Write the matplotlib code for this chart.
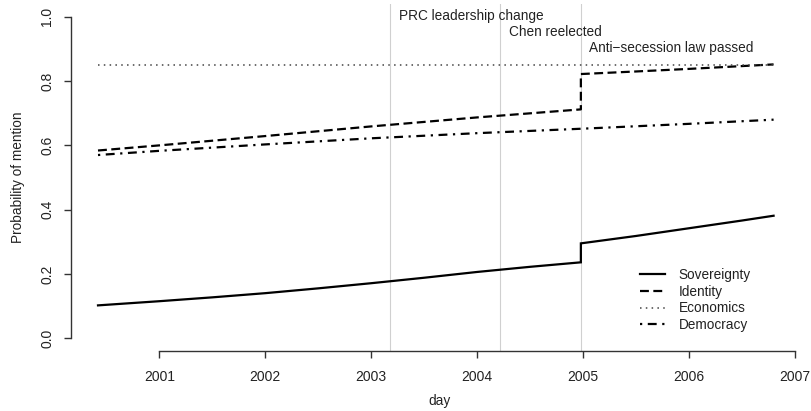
import matplotlib
matplotlib.use("Agg")
import matplotlib.pyplot as plt

plt.rcParams['font.family'] = ['Liberation Sans', 'DejaVu Sans']

# ---- data ----
sov_x = [2000.42, 2001.0, 2001.5, 2002.0, 2002.5, 2003.0, 2003.5, 2004.0, 2004.5, 2004.98,
         2004.98, 2005.5, 2006.0, 2006.5, 2006.8]
sov_y = [0.102, 0.115, 0.127, 0.140, 0.155, 0.171, 0.188, 0.206, 0.222, 0.236,
         0.295, 0.318, 0.342, 0.366, 0.381]

id_x = [2000.42, 2001.0, 2002.0, 2003.0, 2004.0, 2004.98, 2004.98, 2005.5, 2006.0, 2006.8]
id_y = [0.584, 0.600, 0.629, 0.659, 0.687, 0.712, 0.822, 0.830, 0.838, 0.852]

eco_x = [2000.42, 2006.8]
eco_y = [0.850, 0.850]

dem_x = [2000.42, 2001.0, 2002.0, 2003.0, 2004.0, 2005.0, 2006.0, 2006.8]
dem_y = [0.570, 0.583, 0.603, 0.622, 0.638, 0.652, 0.667, 0.680]

event_x = [2003.18, 2004.22, 2004.98]
event_labels = ["PRC leadership change", "Chen reelected", "Anti\u2212secession law passed"]
event_label_y = [1.003, 0.953, 0.903]

x_ticks = [2001, 2002, 2003, 2004, 2005, 2006, 2007]
y_ticks = [0.0, 0.2, 0.4, 0.6, 0.8, 1.0]
y_ticklabels = ["0.0", "0.2", "0.4", "0.6", "0.8", "1.0"]

# ---- figure ----
W, H = 811, 411
fig = plt.figure(figsize=(W / 100, H / 100), dpi=100)
ax = fig.add_axes([71 / W, (H - 351) / H, (808 - 71) / W, (351 - 4) / H])

ax.set_xlim(2000.165, 2007.125)
ax.set_ylim(-0.04, 1.04)

for ex in event_x:
    ax.axvline(ex, color='#d0d0d0', lw=0.8, zorder=1)
for ex, lab, ly in zip(event_x, event_labels, event_label_y):
    ax.annotate(lab, xy=(ex, ly), xytext=(6, 0), textcoords='offset points',
                ha='left', va='center', fontsize=9.8, color='#222222')

ax.plot(sov_x, sov_y, color='black', lw=1.6, solid_joinstyle='miter', label='Sovereignty', zorder=3)
ax.plot(id_x, id_y, color='black', lw=1.6, dashes=[4, 2], label='Identity', zorder=3)
ax.plot(eco_x, eco_y, color='#444444', lw=1.1, dashes=[1, 2.8], label='Economics', zorder=3)
ax.plot(dem_x, dem_y, color='black', lw=1.6, dashes=[1, 2.5, 4, 2.5], label='Democracy', zorder=3)

for s in ['top', 'right']:
    ax.spines[s].set_visible(False)
ax.spines['left'].set_bounds(0, 1)
ax.spines['bottom'].set_bounds(2001, 2007)
for s in ['left', 'bottom']:
    ax.spines[s].set_color('#333333')
    ax.spines[s].set_linewidth(1.0)

ax.set_xticks(x_ticks)
ax.set_xticklabels([str(t) for t in x_ticks])
ax.set_yticks(y_ticks)
ax.set_yticklabels(y_ticklabels, rotation=90, va='center')
ax.tick_params(axis='both', direction='out', length=5, width=1.0, color='#333333',
               labelsize=10, labelcolor='#222222')
ax.tick_params(axis='x', pad=9)
ax.tick_params(axis='y', pad=7)

ax.set_xlabel('day', fontsize=9.8, color='#222222', labelpad=7)
ax.set_ylabel('Probability of mention', fontsize=9.8, color='#222222', labelpad=11)

leg = ax.legend(loc='upper left', bbox_to_anchor=(640 / W, 1 - 268 / H),
                bbox_transform=fig.transFigure, frameon=False, fontsize=9.8,
                handlelength=1.85, handletextpad=1.0, labelspacing=0.2,
                borderpad=0, borderaxespad=0)
for t in leg.get_texts():
    t.set_color('#222222')

fig.savefig('out.png', dpi=100)
